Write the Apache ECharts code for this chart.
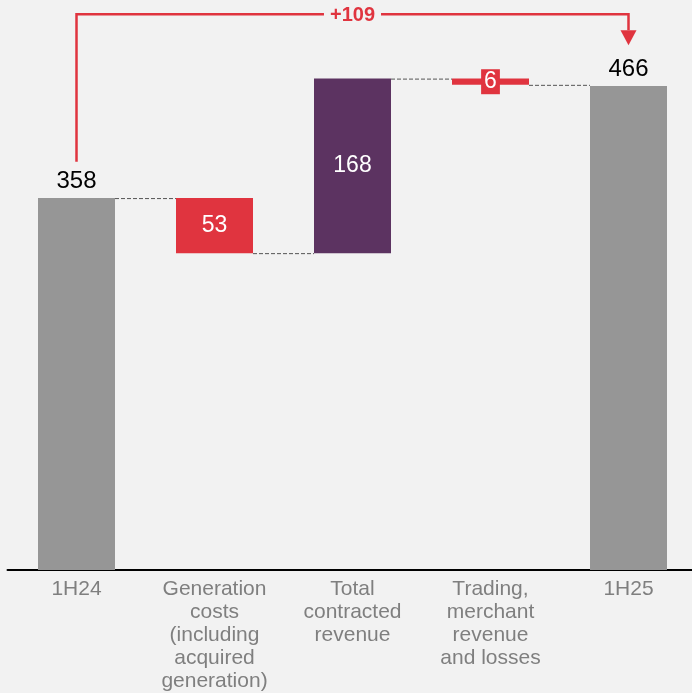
<!DOCTYPE html>
<html>
<head>
<meta charset="utf-8">
<script src="https://cdn.jsdelivr.net/npm/echarts@6/dist/echarts.min.js"></script>
<style>
  html, body { margin: 0; padding: 0; background: #f2f2f2; }
  #chart { width: 692px; height: 693px; }
</style>
</head>
<body>
<div id="chart"></div>
<script>
const categories = ['1H24', 'Generation\ncosts\n(including\nacquired\ngeneration)', 'Total\ncontracted\nrevenue', 'Trading,\nmerchant\nrevenue\nand losses', '1H25']
const baseValues = [0, 305, 305, 467, 0]
const deltaValues = [358, 53, 168, 6, 466]
const kinds = ['total', 'down', 'up', 'down', 'total']
// connector lines: [from category index, level]
const connectors = [[0, 358], [1, 305], [2, 473], [3, 467]]
// bracket from first to last total
const bracketLabel = '+109'
const bracketTop = 535
const bracketLeftEnd = 393
const bracketArrowTip = 505

const COLORS = { total: '#969696', down: '#e0343f', up: '#5c3361' }
const FONT = '"Liberation Sans", Arial, sans-serif'
const BAR_W = 77

const chart = echarts.init(document.getElementById('chart'), null, { renderer: 'canvas' })

const deltaData = deltaValues.map((v, i) => {
  const k = kinds[i]
  let label
  if (k === 'total') {
    label = { show: true, position: 'top', distance: 5, color: '#000', fontSize: 24, fontFamily: FONT }
  } else if (i === 3) {
    label = { show: true, position: 'inside', color: '#fff', fontSize: 23, fontFamily: FONT,
      backgroundColor: COLORS.down, padding: [2, 3, 0, 3] }
  } else {
    label = { show: true, position: 'inside', color: '#fff', fontSize: 23, fontFamily: FONT }
  }
  return { value: v, itemStyle: { color: COLORS[k] }, label }
})

const option = {
  backgroundColor: '#f2f2f2',
  animation: false,
  grid: { left: 7.5, width: 690, top: 9, bottom: 123, outerBoundsMode: 'none', containLabel: false },
  xAxis: {
    type: 'category', data: categories,
    axisLine: { lineStyle: { color: '#000', width: 2 } },
    axisTick: { show: false },
    axisLabel: { color: '#7f7f7f', fontSize: 21, lineHeight: 23, fontFamily: FONT, margin: 8, interval: 0 },
  },
  yAxis: {
    type: 'value', min: 0, max: 540,
    show: false,
    splitLine: { show: false },
  },
  series: [
    {
      type: 'bar', stack: 'w', data: baseValues, barWidth: BAR_W,
      itemStyle: { color: 'transparent' }, silent: true,
    },
    {
      type: 'bar', stack: 'w', data: deltaData, barWidth: BAR_W,
    },
    {
      type: 'custom', data: connectors, z: 1,
      renderItem: (params, api) => {
        const i = api.value(0), v = api.value(1)
        const a = api.coord([i, v]), b = api.coord([i + 1, v])
        return {
          type: 'line',
          shape: { x1: a[0] + BAR_W / 2, y1: a[1] + 0.5, x2: b[0] - BAR_W / 2, y2: b[1] + 0.5 },
          style: { stroke: '#555', lineWidth: 1, lineDash: [4, 2] },
        }
      },
    },
    {
      type: 'custom', data: [[0, 4]], z: 5,
      renderItem: (params, api) => {
        const s = api.coord([api.value(0), bracketLeftEnd])
        const t1 = api.coord([api.value(0), bracketTop])
        const t2 = api.coord([api.value(1), bracketTop])
        const e = api.coord([api.value(1), bracketArrowTip])
        const red = '#e0343f'
        const headH = 15, headW = 8
        return {
          type: 'group',
          children: [
            { type: 'polyline', shape: { points: [s, t1, t2, [e[0], e[1] - headH]] },
              style: { stroke: red, lineWidth: 2.5, fill: null } },
            { type: 'polygon', shape: { points: [[e[0] - headW, e[1] - headH], [e[0] + headW, e[1] - headH], e] },
              style: { fill: red } },
            { type: 'text', x: (t1[0] + t2[0]) / 2, y: t1[1] + 1,
              style: { text: bracketLabel, fill: red, font: 'bold 20px ' + FONT, align: 'center', verticalAlign: 'middle',
                backgroundColor: '#f2f2f2', padding: [0, 6] } },
          ],
        }
      },
    },
  ],
}
chart.setOption(option)
</script>
</body>
</html>
